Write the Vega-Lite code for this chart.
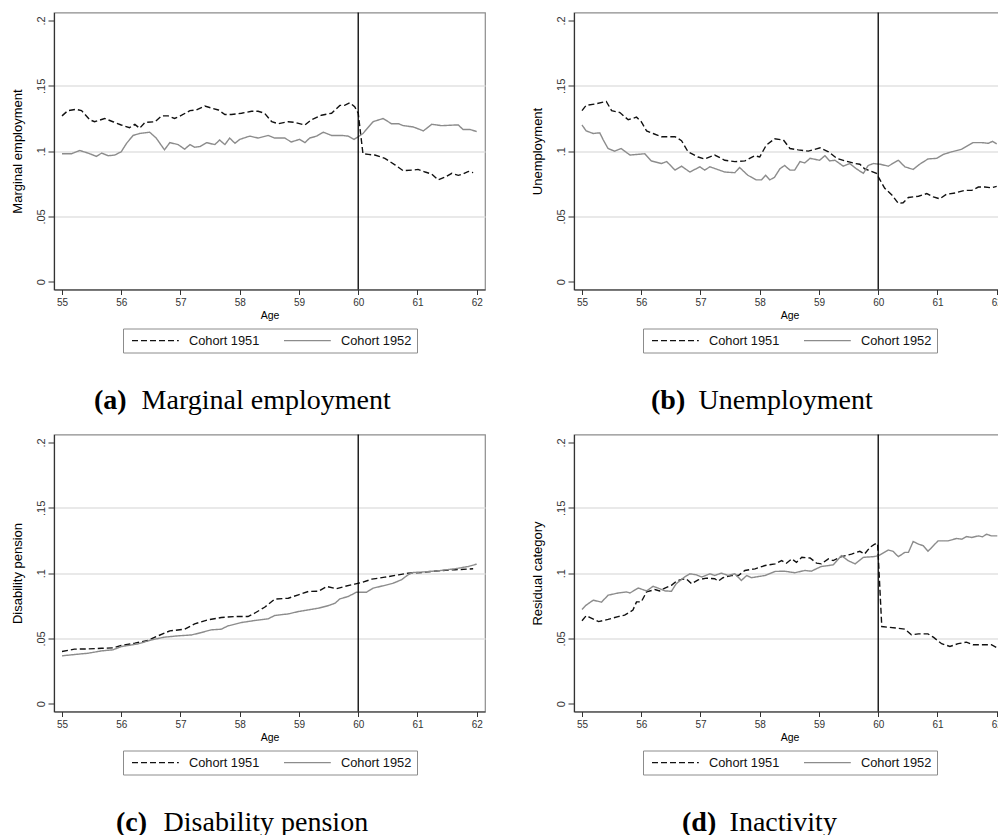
{
  "$schema": "https://vega.github.io/schema/vega-lite/v6.json",
  "background": "white",
  "padding": {"left": 10, "top": 10.5, "right": 0, "bottom": 0},
  "columns": 2,
  "spacing": {"row": 145, "column": 89},
  "bounds": "flush",
  "config": {
    "font": "Liberation Sans",
    "view": {"stroke": "#8c8c8c", "strokeWidth": 1.2},
    "axis": {
      "domainColor": "#333",
      "domainWidth": 1.2,
      "tickColor": "#333",
      "labelColor": "#333",
      "labelFont": "Liberation Sans",
      "titleFont": "Liberation Sans",
      "titleColor": "#000",
      "titleFontWeight": "normal",
      "labelFlush": false,
      "labelOverlap": false
    },
    "legend": {
      "title": null,
      "orient": "none",
      "legendX": 69,
      "legendY": 316,
      "direction": "horizontal",
      "symbolType": "M-3.9,0H3.9",
      "symbolSize": 144,
      "symbolOffset": 20.4,
      "symbolStrokeWidth": 1.4,
      "labelFont": "Liberation Sans",
      "labelFontSize": 12.8,
      "labelColor": "#111",
      "labelOffset": 26.5,
      "columnPadding": 20,
      "padding": 5,
      "strokeColor": "#8c8c8c",
      "fillColor": "#ffffff"
    },
    "title": {
      "orient": "bottom",
      "anchor": "start",
      "align": "left",
      "frame": "group",
      "offset": 34,
      "font": "Liberation Serif",
      "fontSize": 28,
      "fontWeight": "bold",
      "color": "#000",
      "subtitleFont": "Liberation Serif",
      "subtitleFontSize": 28,
      "subtitleFontWeight": "normal",
      "subtitleColor": "#000",
      "subtitlePadding": -28
    }
  },
  "datasets": {
    "emp": [
      {"c":"1951","a":55.00,"v":0.127},{"c":"1951","a":55.10,"v":0.131},{"c":"1951","a":55.24,"v":0.132},{"c":"1951","a":55.33,"v":0.131},
      {"c":"1951","a":55.47,"v":0.124},{"c":"1951","a":55.55,"v":0.1225},{"c":"1951","a":55.72,"v":0.125},{"c":"1951","a":55.86,"v":0.1225},
      {"c":"1951","a":56.00,"v":0.120},{"c":"1951","a":56.14,"v":0.118},{"c":"1951","a":56.23,"v":0.1205},{"c":"1951","a":56.31,"v":0.1175},
      {"c":"1951","a":56.40,"v":0.122},{"c":"1951","a":56.57,"v":0.1225},{"c":"1951","a":56.68,"v":0.127},{"c":"1951","a":56.79,"v":0.127},
      {"c":"1951","a":56.90,"v":0.125},{"c":"1951","a":57.02,"v":0.1275},{"c":"1951","a":57.16,"v":0.131},{"c":"1951","a":57.27,"v":0.1315},
      {"c":"1951","a":57.41,"v":0.1345},{"c":"1951","a":57.52,"v":0.133},{"c":"1951","a":57.64,"v":0.1315},{"c":"1951","a":57.75,"v":0.128},
      {"c":"1951","a":57.86,"v":0.128},{"c":"1951","a":58.03,"v":0.129},{"c":"1951","a":58.20,"v":0.1305},{"c":"1951","a":58.31,"v":0.1305},
      {"c":"1951","a":58.42,"v":0.129},{"c":"1951","a":58.54,"v":0.1225},{"c":"1951","a":58.65,"v":0.121},{"c":"1951","a":58.82,"v":0.1225},
      {"c":"1951","a":58.93,"v":0.122},{"c":"1951","a":59.10,"v":0.120},{"c":"1951","a":59.21,"v":0.124},{"c":"1951","a":59.38,"v":0.1275},
      {"c":"1951","a":59.55,"v":0.129},{"c":"1951","a":59.69,"v":0.135},{"c":"1951","a":59.77,"v":0.135},{"c":"1951","a":59.86,"v":0.137},
      {"c":"1951","a":59.94,"v":0.134},{"c":"1951","a":60.00,"v":0.129},{"c":"1951","a":60.08,"v":0.098},{"c":"1951","a":60.17,"v":0.0975},
      {"c":"1951","a":60.28,"v":0.097},{"c":"1951","a":60.45,"v":0.0945},{"c":"1951","a":60.62,"v":0.0895},{"c":"1951","a":60.76,"v":0.085},
      {"c":"1951","a":60.93,"v":0.0855},{"c":"1951","a":61.01,"v":0.086},{"c":"1951","a":61.13,"v":0.084},{"c":"1951","a":61.24,"v":0.0825},
      {"c":"1951","a":61.35,"v":0.078},{"c":"1951","a":61.46,"v":0.080},{"c":"1951","a":61.58,"v":0.083},{"c":"1951","a":61.69,"v":0.0815},
      {"c":"1951","a":61.77,"v":0.0825},{"c":"1951","a":61.86,"v":0.0845},{"c":"1951","a":61.94,"v":0.0835},
      {"c":"1952","a":55.00,"v":0.098},{"c":"1952","a":55.16,"v":0.098},{"c":"1952","a":55.30,"v":0.1005},{"c":"1952","a":55.44,"v":0.0985},
      {"c":"1952","a":55.58,"v":0.096},{"c":"1952","a":55.67,"v":0.0985},{"c":"1952","a":55.78,"v":0.0965},{"c":"1952","a":55.89,"v":0.097},
      {"c":"1952","a":56.00,"v":0.0995},{"c":"1952","a":56.09,"v":0.106},{"c":"1952","a":56.20,"v":0.112},{"c":"1952","a":56.31,"v":0.1135},
      {"c":"1952","a":56.48,"v":0.1145},{"c":"1952","a":56.59,"v":0.110},{"c":"1952","a":56.73,"v":0.101},{"c":"1952","a":56.82,"v":0.1065},
      {"c":"1952","a":56.96,"v":0.105},{"c":"1952","a":57.07,"v":0.1015},{"c":"1952","a":57.16,"v":0.105},{"c":"1952","a":57.24,"v":0.103},
      {"c":"1952","a":57.33,"v":0.1035},{"c":"1952","a":57.44,"v":0.1065},{"c":"1952","a":57.58,"v":0.105},{"c":"1952","a":57.66,"v":0.1085},
      {"c":"1952","a":57.75,"v":0.105},{"c":"1952","a":57.83,"v":0.110},{"c":"1952","a":57.92,"v":0.106},{"c":"1952","a":58.00,"v":0.109},
      {"c":"1952","a":58.17,"v":0.1115},{"c":"1952","a":58.31,"v":0.110},{"c":"1952","a":58.48,"v":0.112},{"c":"1952","a":58.59,"v":0.110},
      {"c":"1952","a":58.76,"v":0.110},{"c":"1952","a":58.87,"v":0.107},{"c":"1952","a":59.01,"v":0.109},{"c":"1952","a":59.10,"v":0.1065},
      {"c":"1952","a":59.18,"v":0.110},{"c":"1952","a":59.30,"v":0.1115},{"c":"1952","a":59.41,"v":0.1145},{"c":"1952","a":59.55,"v":0.112},
      {"c":"1952","a":59.72,"v":0.112},{"c":"1952","a":59.83,"v":0.1115},{"c":"1952","a":59.93,"v":0.109},{"c":"1952","a":60.00,"v":0.111},
      {"c":"1952","a":60.08,"v":0.1135},{"c":"1952","a":60.25,"v":0.1225},{"c":"1952","a":60.42,"v":0.125},{"c":"1952","a":60.56,"v":0.121},
      {"c":"1952","a":60.68,"v":0.121},{"c":"1952","a":60.76,"v":0.1195},{"c":"1952","a":60.93,"v":0.1185},{"c":"1952","a":61.10,"v":0.1155},
      {"c":"1952","a":61.24,"v":0.1205},{"c":"1952","a":61.41,"v":0.1195},{"c":"1952","a":61.63,"v":0.120},{"c":"1952","a":61.69,"v":0.120},
      {"c":"1952","a":61.77,"v":0.1165},{"c":"1952","a":61.89,"v":0.1165},{"c":"1952","a":62.00,"v":0.115}
    ],
    "unemp": [
      {"c":"1951","a":55.00,"v":0.131},{"c":"1951","a":55.07,"v":0.135},{"c":"1951","a":55.21,"v":0.136},{"c":"1951","a":55.41,"v":0.138},
      {"c":"1951","a":55.50,"v":0.131},{"c":"1951","a":55.64,"v":0.1295},{"c":"1951","a":55.78,"v":0.124},{"c":"1951","a":55.92,"v":0.126},
      {"c":"1951","a":56.00,"v":0.1225},{"c":"1951","a":56.09,"v":0.1155},{"c":"1951","a":56.20,"v":0.1135},{"c":"1951","a":56.34,"v":0.111},
      {"c":"1951","a":56.57,"v":0.111},{"c":"1951","a":56.68,"v":0.108},{"c":"1951","a":56.79,"v":0.0995},{"c":"1951","a":56.96,"v":0.0955},
      {"c":"1951","a":57.07,"v":0.094},{"c":"1951","a":57.24,"v":0.097},{"c":"1951","a":57.41,"v":0.093},{"c":"1951","a":57.58,"v":0.092},
      {"c":"1951","a":57.75,"v":0.0925},{"c":"1951","a":57.92,"v":0.0965},{"c":"1951","a":58.00,"v":0.0955},{"c":"1951","a":58.11,"v":0.1045},
      {"c":"1951","a":58.25,"v":0.1095},{"c":"1951","a":58.40,"v":0.1085},{"c":"1951","a":58.51,"v":0.102},{"c":"1951","a":58.65,"v":0.101},
      {"c":"1951","a":58.82,"v":0.100},{"c":"1951","a":59.02,"v":0.1025},{"c":"1951","a":59.16,"v":0.0995},{"c":"1951","a":59.30,"v":0.0945},
      {"c":"1951","a":59.44,"v":0.0925},{"c":"1951","a":59.61,"v":0.0905},{"c":"1951","a":59.69,"v":0.090},{"c":"1951","a":59.77,"v":0.0865},
      {"c":"1951","a":59.83,"v":0.0855},{"c":"1951","a":59.97,"v":0.083},{"c":"1951","a":60.03,"v":0.078},{"c":"1951","a":60.11,"v":0.0715},
      {"c":"1951","a":60.23,"v":0.0665},{"c":"1951","a":60.34,"v":0.060},{"c":"1951","a":60.42,"v":0.0605},{"c":"1951","a":60.51,"v":0.0645},
      {"c":"1951","a":60.68,"v":0.0655},{"c":"1951","a":60.82,"v":0.0675},{"c":"1951","a":60.93,"v":0.065},{"c":"1951","a":61.04,"v":0.0635},
      {"c":"1951","a":61.15,"v":0.067},{"c":"1951","a":61.30,"v":0.068},{"c":"1951","a":61.46,"v":0.070},{"c":"1951","a":61.58,"v":0.070},
      {"c":"1951","a":61.69,"v":0.0725},{"c":"1951","a":61.80,"v":0.0725},{"c":"1951","a":61.91,"v":0.072},{"c":"1951","a":62.00,"v":0.073},
      {"c":"1952","a":55.00,"v":0.120},{"c":"1952","a":55.07,"v":0.1155},{"c":"1952","a":55.19,"v":0.1135},{"c":"1952","a":55.30,"v":0.114},
      {"c":"1952","a":55.36,"v":0.1085},{"c":"1952","a":55.44,"v":0.102},{"c":"1952","a":55.55,"v":0.100},{"c":"1952","a":55.66,"v":0.102},
      {"c":"1952","a":55.81,"v":0.097},{"c":"1952","a":56.06,"v":0.098},{"c":"1952","a":56.17,"v":0.0925},{"c":"1952","a":56.34,"v":0.0905},
      {"c":"1952","a":56.43,"v":0.092},{"c":"1952","a":56.57,"v":0.0855},{"c":"1952","a":56.68,"v":0.0885},{"c":"1952","a":56.82,"v":0.084},
      {"c":"1952","a":56.99,"v":0.088},{"c":"1952","a":57.07,"v":0.0855},{"c":"1952","a":57.16,"v":0.088},{"c":"1952","a":57.41,"v":0.084},
      {"c":"1952","a":57.58,"v":0.0835},{"c":"1952","a":57.66,"v":0.0875},{"c":"1952","a":57.80,"v":0.0815},{"c":"1952","a":57.94,"v":0.078},
      {"c":"1952","a":58.03,"v":0.078},{"c":"1952","a":58.10,"v":0.0815},{"c":"1952","a":58.17,"v":0.078},{"c":"1952","a":58.25,"v":0.080},
      {"c":"1952","a":58.34,"v":0.0865},{"c":"1952","a":58.42,"v":0.089},{"c":"1952","a":58.51,"v":0.0855},{"c":"1952","a":58.59,"v":0.0855},
      {"c":"1952","a":58.68,"v":0.092},{"c":"1952","a":58.76,"v":0.091},{"c":"1952","a":58.85,"v":0.0945},{"c":"1952","a":59.01,"v":0.093},
      {"c":"1952","a":59.10,"v":0.0965},{"c":"1952","a":59.18,"v":0.0925},{"c":"1952","a":59.27,"v":0.093},{"c":"1952","a":59.41,"v":0.0885},
      {"c":"1952","a":59.52,"v":0.0905},{"c":"1952","a":59.63,"v":0.0865},{"c":"1952","a":59.75,"v":0.083},{"c":"1952","a":59.83,"v":0.089},
      {"c":"1952","a":59.92,"v":0.0905},{"c":"1952","a":60.03,"v":0.090},{"c":"1952","a":60.17,"v":0.0885},{"c":"1952","a":60.34,"v":0.093},
      {"c":"1952","a":60.45,"v":0.088},{"c":"1952","a":60.59,"v":0.086},{"c":"1952","a":60.70,"v":0.090},{"c":"1952","a":60.84,"v":0.094},
      {"c":"1952","a":60.99,"v":0.0945},{"c":"1952","a":61.10,"v":0.0975},{"c":"1952","a":61.24,"v":0.0995},{"c":"1952","a":61.41,"v":0.1015},
      {"c":"1952","a":61.60,"v":0.1065},{"c":"1952","a":61.75,"v":0.1065},{"c":"1952","a":61.86,"v":0.106},{"c":"1952","a":61.93,"v":0.1075},
      {"c":"1952","a":62.00,"v":0.1055}
    ],
    "dis": [
      {"c":"1951","a":55.00,"v":0.040},{"c":"1951","a":55.21,"v":0.0418},{"c":"1951","a":55.44,"v":0.042},{"c":"1951","a":55.67,"v":0.0425},
      {"c":"1951","a":55.86,"v":0.0428},{"c":"1951","a":56.00,"v":0.0446},{"c":"1951","a":56.23,"v":0.0464},{"c":"1951","a":56.45,"v":0.0484},
      {"c":"1951","a":56.62,"v":0.052},{"c":"1951","a":56.82,"v":0.0558},{"c":"1951","a":57.07,"v":0.0571},{"c":"1951","a":57.24,"v":0.0612},
      {"c":"1951","a":57.46,"v":0.0642},{"c":"1951","a":57.69,"v":0.066},{"c":"1951","a":57.92,"v":0.0668},{"c":"1951","a":58.14,"v":0.0668},
      {"c":"1951","a":58.25,"v":0.0693},{"c":"1951","a":58.42,"v":0.0739},{"c":"1951","a":58.59,"v":0.0801},{"c":"1951","a":58.82,"v":0.0808},
      {"c":"1951","a":58.99,"v":0.0834},{"c":"1951","a":59.16,"v":0.086},{"c":"1951","a":59.33,"v":0.0862},{"c":"1951","a":59.47,"v":0.0898},
      {"c":"1951","a":59.63,"v":0.088},{"c":"1951","a":59.77,"v":0.0898},{"c":"1951","a":59.94,"v":0.0916},{"c":"1951","a":60.06,"v":0.0928},
      {"c":"1951","a":60.23,"v":0.0954},{"c":"1951","a":60.45,"v":0.0969},{"c":"1951","a":60.68,"v":0.0987},{"c":"1951","a":60.84,"v":0.100},
      {"c":"1951","a":61.07,"v":0.1005},{"c":"1951","a":61.35,"v":0.1018},{"c":"1951","a":61.63,"v":0.1026},{"c":"1951","a":61.94,"v":0.1033},
      {"c":"1952","a":55.00,"v":0.0367},{"c":"1952","a":55.21,"v":0.0377},{"c":"1952","a":55.44,"v":0.0387},{"c":"1952","a":55.67,"v":0.0405},
      {"c":"1952","a":55.86,"v":0.0413},{"c":"1952","a":56.00,"v":0.0438},{"c":"1952","a":56.28,"v":0.0458},{"c":"1952","a":56.51,"v":0.0489},
      {"c":"1952","a":56.73,"v":0.051},{"c":"1952","a":56.96,"v":0.052},{"c":"1952","a":57.19,"v":0.0527},{"c":"1952","a":57.35,"v":0.0545},
      {"c":"1952","a":57.52,"v":0.0566},{"c":"1952","a":57.69,"v":0.0571},{"c":"1952","a":57.80,"v":0.0596},{"c":"1952","a":58.03,"v":0.0622},
      {"c":"1952","a":58.25,"v":0.0637},{"c":"1952","a":58.48,"v":0.065},{"c":"1952","a":58.59,"v":0.0676},{"c":"1952","a":58.82,"v":0.0688},
      {"c":"1952","a":58.99,"v":0.0706},{"c":"1952","a":59.16,"v":0.0719},{"c":"1952","a":59.33,"v":0.0732},{"c":"1952","a":59.50,"v":0.0752},
      {"c":"1952","a":59.61,"v":0.077},{"c":"1952","a":59.69,"v":0.0803},{"c":"1952","a":59.83,"v":0.0821},{"c":"1952","a":59.97,"v":0.0854},
      {"c":"1952","a":60.14,"v":0.0854},{"c":"1952","a":60.25,"v":0.0885},{"c":"1952","a":60.42,"v":0.0903},{"c":"1952","a":60.59,"v":0.0923},
      {"c":"1952","a":60.73,"v":0.0949},{"c":"1952","a":60.84,"v":0.0987},{"c":"1952","a":60.93,"v":0.1005},{"c":"1952","a":61.07,"v":0.1008},
      {"c":"1952","a":61.35,"v":0.1018},{"c":"1952","a":61.63,"v":0.1033},{"c":"1952","a":61.86,"v":0.1051},{"c":"1952","a":62.00,"v":0.1069}
    ],
    "inact": [
      {"c":"1951","a":55.00,"v":0.0636},{"c":"1951","a":55.07,"v":0.0674},{"c":"1951","a":55.13,"v":0.0662},{"c":"1951","a":55.28,"v":0.0629},
      {"c":"1951","a":55.44,"v":0.0646},{"c":"1951","a":55.61,"v":0.0667},{"c":"1951","a":55.72,"v":0.0679},{"c":"1951","a":55.86,"v":0.0717},
      {"c":"1951","a":55.92,"v":0.078},{"c":"1951","a":56.00,"v":0.078},{"c":"1951","a":56.09,"v":0.0856},{"c":"1951","a":56.23,"v":0.0874},
      {"c":"1951","a":56.31,"v":0.0864},{"c":"1951","a":56.40,"v":0.0886},{"c":"1951","a":56.51,"v":0.0907},{"c":"1951","a":56.59,"v":0.0937},
      {"c":"1951","a":56.68,"v":0.0952},{"c":"1951","a":56.76,"v":0.0957},{"c":"1951","a":56.85,"v":0.0919},{"c":"1951","a":56.96,"v":0.0949},
      {"c":"1951","a":57.10,"v":0.0962},{"c":"1951","a":57.24,"v":0.0957},{"c":"1951","a":57.30,"v":0.0939},{"c":"1951","a":57.38,"v":0.0965},
      {"c":"1951","a":57.52,"v":0.0982},{"c":"1951","a":57.64,"v":0.0982},{"c":"1951","a":57.75,"v":0.102},{"c":"1951","a":57.92,"v":0.1033},
      {"c":"1951","a":58.09,"v":0.1058},{"c":"1951","a":58.26,"v":0.1071},{"c":"1951","a":58.37,"v":0.1096},{"c":"1951","a":58.45,"v":0.1076},
      {"c":"1951","a":58.54,"v":0.1109},{"c":"1951","a":58.62,"v":0.1083},{"c":"1951","a":58.71,"v":0.1121},{"c":"1951","a":58.85,"v":0.1116},
      {"c":"1951","a":58.96,"v":0.1076},{"c":"1951","a":59.04,"v":0.1071},{"c":"1951","a":59.16,"v":0.1109},{"c":"1951","a":59.24,"v":0.1096},
      {"c":"1951","a":59.38,"v":0.1126},{"c":"1951","a":59.55,"v":0.1146},{"c":"1951","a":59.69,"v":0.1167},{"c":"1951","a":59.77,"v":0.1146},
      {"c":"1951","a":59.86,"v":0.1197},{"c":"1951","a":59.94,"v":0.1222},{"c":"1951","a":59.99,"v":0.1227},{"c":"1951","a":60.06,"v":0.0591},
      {"c":"1951","a":60.17,"v":0.0586},{"c":"1951","a":60.34,"v":0.0578},{"c":"1951","a":60.45,"v":0.0571},{"c":"1951","a":60.56,"v":0.0528},
      {"c":"1951","a":60.68,"v":0.0535},{"c":"1951","a":60.84,"v":0.0535},{"c":"1951","a":60.93,"v":0.051},{"c":"1951","a":61.07,"v":0.046},
      {"c":"1951","a":61.21,"v":0.0439},{"c":"1951","a":61.35,"v":0.046},{"c":"1951","a":61.49,"v":0.0472},{"c":"1951","a":61.60,"v":0.0452},
      {"c":"1951","a":61.80,"v":0.0452},{"c":"1951","a":61.91,"v":0.0452},{"c":"1951","a":62.01,"v":0.0427},
      {"c":"1952","a":55.00,"v":0.0722},{"c":"1952","a":55.07,"v":0.0755},{"c":"1952","a":55.19,"v":0.0793},{"c":"1952","a":55.33,"v":0.0778},
      {"c":"1952","a":55.44,"v":0.0831},{"c":"1952","a":55.61,"v":0.0848},{"c":"1952","a":55.75,"v":0.0856},{"c":"1952","a":55.81,"v":0.0848},
      {"c":"1952","a":55.95,"v":0.0886},{"c":"1952","a":56.09,"v":0.0864},{"c":"1952","a":56.20,"v":0.0899},{"c":"1952","a":56.31,"v":0.0881},
      {"c":"1952","a":56.40,"v":0.0864},{"c":"1952","a":56.51,"v":0.0861},{"c":"1952","a":56.59,"v":0.0919},{"c":"1952","a":56.73,"v":0.097},
      {"c":"1952","a":56.82,"v":0.0995},{"c":"1952","a":56.93,"v":0.0987},{"c":"1952","a":57.02,"v":0.097},{"c":"1952","a":57.16,"v":0.0995},
      {"c":"1952","a":57.24,"v":0.0982},{"c":"1952","a":57.35,"v":0.100},{"c":"1952","a":57.47,"v":0.0982},{"c":"1952","a":57.58,"v":0.0995},
      {"c":"1952","a":57.69,"v":0.0944},{"c":"1952","a":57.78,"v":0.0982},{"c":"1952","a":57.86,"v":0.0965},{"c":"1952","a":58.09,"v":0.0982},
      {"c":"1952","a":58.26,"v":0.1013},{"c":"1952","a":58.42,"v":0.1015},{"c":"1952","a":58.59,"v":0.1003},{"c":"1952","a":58.76,"v":0.102},
      {"c":"1952","a":58.87,"v":0.1015},{"c":"1952","a":59.04,"v":0.1051},{"c":"1952","a":59.24,"v":0.1063},{"c":"1952","a":59.38,"v":0.1134},
      {"c":"1952","a":59.49,"v":0.1096},{"c":"1952","a":59.61,"v":0.1071},{"c":"1952","a":59.75,"v":0.1121},{"c":"1952","a":59.92,"v":0.1126},
      {"c":"1952","a":60.01,"v":0.1134},{"c":"1952","a":60.17,"v":0.1177},{"c":"1952","a":60.25,"v":0.1167},{"c":"1952","a":60.34,"v":0.1126},
      {"c":"1952","a":60.45,"v":0.1159},{"c":"1952","a":60.51,"v":0.1159},{"c":"1952","a":60.59,"v":0.1242},{"c":"1952","a":60.68,"v":0.1222},
      {"c":"1952","a":60.76,"v":0.121},{"c":"1952","a":60.84,"v":0.1167},{"c":"1952","a":61.01,"v":0.1247},{"c":"1952","a":61.18,"v":0.1247},
      {"c":"1952","a":61.32,"v":0.1265},{"c":"1952","a":61.41,"v":0.126},{"c":"1952","a":61.49,"v":0.128},{"c":"1952","a":61.58,"v":0.1273},
      {"c":"1952","a":61.69,"v":0.1285},{"c":"1952","a":61.76,"v":0.1278},{"c":"1952","a":61.83,"v":0.1298},{"c":"1952","a":61.91,"v":0.1285},
      {"c":"1952","a":62.01,"v":0.1285}
    ],
    "cutoff": [{"a": 60}]
  },
  "resolve": {
    "scale": {"x": "independent", "y": "independent", "color": "independent", "strokeDash": "independent"},
    "legend": {"color": "independent", "strokeDash": "independent"}
  },
  "concat": [
    {
      "width": 431, "height": 277,
      "title": {"text": "(a)", "subtitle": "\u200b\u00a0\u00a0\u00a0\u00a0\u00a0\u00a0\u2009Marginal employment", "dx": 40},
      "layer": [
        {
          "data": {"name": "emp"},
          "mark": {"type": "line", "strokeWidth": 1.4, "clip": true},
          "encoding": {
            "x": {"field": "a", "type": "quantitative", "scale": {"domain": [54.865, 62.14], "nice": false, "zero": false},
                  "axis": {"values": [55,56,57,58,59,60,61,62], "format": "d", "labelFontSize": 10, "tickSize": 5, "labelPadding": 3, "title": "Age", "titleFontSize": 10.5, "titlePadding": 3, "grid": false}},
            "y": {"field": "v", "type": "quantitative", "scale": {"domain": [-0.0059, 0.2061], "nice": false, "zero": false},
                  "axis": {"values": [0,0.05,0.1,0.15,0.2], "format": ".2~f", "labelExpr": "replace(datum.label, '0.', '.')", "labelAngle": 270, "labelAlign": "center", "labelBaseline": "bottom", "labelPadding": 2, "tickSize": 6, "labelFontSize": 11, "title": "Marginal employment", "titleFontSize": 13, "titlePadding": 11, "grid": true, "gridWidth": 1.5, "gridColor": {"condition": {"test": "datum.value < 0.01 || datum.value > 0.19", "value": "transparent"}, "value": "#e2e2e2"}}},
            "color": {"field": "c", "type": "nominal", "scale": {"domain": ["1951","1952"], "range": ["#111111","#8c8c8c"]}, "legend": {"labelExpr": "'Cohort ' + datum.label"}},
            "strokeDash": {"field": "c", "type": "nominal", "scale": {"domain": ["1951","1952"], "range": [[6,3],[1,0]]}, "legend": {"labelExpr": "'Cohort ' + datum.label"}}
          }
        },
        {"data": {"name": "cutoff"}, "mark": {"type": "rule", "color": "#000", "strokeWidth": 1.3}, "encoding": {"x": {"field": "a", "type": "quantitative"}}}
      ]
    },
    {
      "width": 431, "height": 277,
      "title": {"text": "(b)", "subtitle": "\u200b\u00a0\u00a0\u00a0\u00a0\u00a0\u00a0\u2009Unemployment", "dx": 77},
      "layer": [
        {
          "data": {"name": "unemp"},
          "mark": {"type": "line", "strokeWidth": 1.4, "clip": true},
          "encoding": {
            "x": {"field": "a", "type": "quantitative", "scale": {"domain": [54.865, 62.14], "nice": false, "zero": false},
                  "axis": {"values": [55,56,57,58,59,60,61,62], "format": "d", "labelFontSize": 10, "tickSize": 5, "labelPadding": 3, "title": "Age", "titleFontSize": 10.5, "titlePadding": 3, "grid": false}},
            "y": {"field": "v", "type": "quantitative", "scale": {"domain": [-0.0059, 0.2061], "nice": false, "zero": false},
                  "axis": {"values": [0,0.05,0.1,0.15,0.2], "format": ".2~f", "labelExpr": "replace(datum.label, '0.', '.')", "labelAngle": 270, "labelAlign": "center", "labelBaseline": "bottom", "labelPadding": 2, "tickSize": 6, "labelFontSize": 11, "title": "Unemployment", "titleFontSize": 13, "titlePadding": 11, "grid": true, "gridWidth": 1.5, "gridColor": {"condition": {"test": "datum.value < 0.01 || datum.value > 0.19", "value": "transparent"}, "value": "#e2e2e2"}}},
            "color": {"field": "c", "type": "nominal", "scale": {"domain": ["1951","1952"], "range": ["#111111","#8c8c8c"]}, "legend": {"labelExpr": "'Cohort ' + datum.label"}},
            "strokeDash": {"field": "c", "type": "nominal", "scale": {"domain": ["1951","1952"], "range": [[6,3],[1,0]]}, "legend": {"labelExpr": "'Cohort ' + datum.label"}}
          }
        },
        {"data": {"name": "cutoff"}, "mark": {"type": "rule", "color": "#000", "strokeWidth": 1.3}, "encoding": {"x": {"field": "a", "type": "quantitative"}}}
      ]
    },
    {
      "width": 431, "height": 277,
      "title": {"text": "(c)", "subtitle": "\u200b\u00a0\u00a0\u00a0\u00a0\u00a0\u00a0\u2009Disability pension", "dx": 62},
      "layer": [
        {
          "data": {"name": "dis"},
          "mark": {"type": "line", "strokeWidth": 1.4, "clip": true},
          "encoding": {
            "x": {"field": "a", "type": "quantitative", "scale": {"domain": [54.865, 62.14], "nice": false, "zero": false},
                  "axis": {"values": [55,56,57,58,59,60,61,62], "format": "d", "labelFontSize": 10, "tickSize": 5, "labelPadding": 3, "title": "Age", "titleFontSize": 10.5, "titlePadding": 3, "grid": false}},
            "y": {"field": "v", "type": "quantitative", "scale": {"domain": [-0.0059, 0.2061], "nice": false, "zero": false},
                  "axis": {"values": [0,0.05,0.1,0.15,0.2], "format": ".2~f", "labelExpr": "replace(datum.label, '0.', '.')", "labelAngle": 270, "labelAlign": "center", "labelBaseline": "bottom", "labelPadding": 2, "tickSize": 6, "labelFontSize": 11, "title": "Disability pension", "titleFontSize": 13, "titlePadding": 11, "grid": true, "gridWidth": 1.5, "gridColor": {"condition": {"test": "datum.value < 0.01 || datum.value > 0.19", "value": "transparent"}, "value": "#e2e2e2"}}},
            "color": {"field": "c", "type": "nominal", "scale": {"domain": ["1951","1952"], "range": ["#111111","#8c8c8c"]}, "legend": {"labelExpr": "'Cohort ' + datum.label"}},
            "strokeDash": {"field": "c", "type": "nominal", "scale": {"domain": ["1951","1952"], "range": [[6,3],[1,0]]}, "legend": {"labelExpr": "'Cohort ' + datum.label"}}
          }
        },
        {"data": {"name": "cutoff"}, "mark": {"type": "rule", "color": "#000", "strokeWidth": 1.3}, "encoding": {"x": {"field": "a", "type": "quantitative"}}}
      ]
    },
    {
      "width": 431, "height": 277,
      "title": {"text": "(d)", "subtitle": "\u200b\u00a0\u00a0\u00a0\u00a0\u00a0\u00a0\u2009Inactivity", "dx": 108},
      "layer": [
        {
          "data": {"name": "inact"},
          "mark": {"type": "line", "strokeWidth": 1.4, "clip": true},
          "encoding": {
            "x": {"field": "a", "type": "quantitative", "scale": {"domain": [54.865, 62.14], "nice": false, "zero": false},
                  "axis": {"values": [55,56,57,58,59,60,61,62], "format": "d", "labelFontSize": 10, "tickSize": 5, "labelPadding": 3, "title": "Age", "titleFontSize": 10.5, "titlePadding": 3, "grid": false}},
            "y": {"field": "v", "type": "quantitative", "scale": {"domain": [-0.0059, 0.2061], "nice": false, "zero": false},
                  "axis": {"values": [0,0.05,0.1,0.15,0.2], "format": ".2~f", "labelExpr": "replace(datum.label, '0.', '.')", "labelAngle": 270, "labelAlign": "center", "labelBaseline": "bottom", "labelPadding": 2, "tickSize": 6, "labelFontSize": 11, "title": "Residual category", "titleFontSize": 13, "titlePadding": 11, "grid": true, "gridWidth": 1.5, "gridColor": {"condition": {"test": "datum.value < 0.01 || datum.value > 0.19", "value": "transparent"}, "value": "#e2e2e2"}}},
            "color": {"field": "c", "type": "nominal", "scale": {"domain": ["1951","1952"], "range": ["#111111","#8c8c8c"]}, "legend": {"labelExpr": "'Cohort ' + datum.label"}},
            "strokeDash": {"field": "c", "type": "nominal", "scale": {"domain": ["1951","1952"], "range": [[6,3],[1,0]]}, "legend": {"labelExpr": "'Cohort ' + datum.label"}}
          }
        },
        {"data": {"name": "cutoff"}, "mark": {"type": "rule", "color": "#000", "strokeWidth": 1.3}, "encoding": {"x": {"field": "a", "type": "quantitative"}}}
      ]
    }
  ]
}
